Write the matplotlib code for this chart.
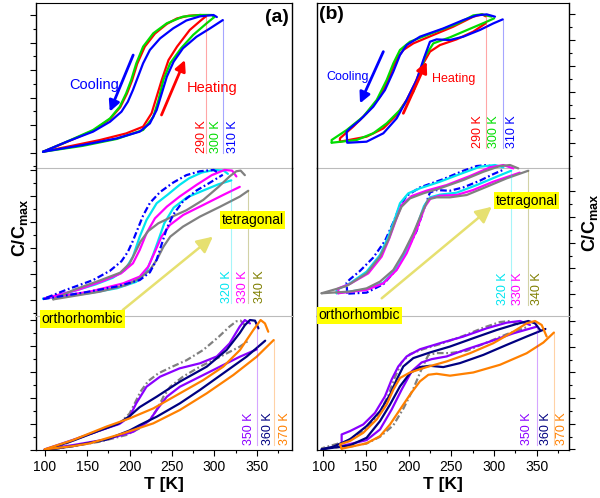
import matplotlib
matplotlib.use("Agg")
import matplotlib.pyplot as plt
from matplotlib.ticker import MultipleLocator

plt.rcParams['font.family'] = ['Liberation Sans', 'DejaVu Sans']
plt.rcParams['mathtext.fontset'] = 'custom'
plt.rcParams['mathtext.rm'] = 'Liberation Sans'
plt.rcParams['mathtext.bf'] = 'Liberation Sans:bold'

# ================= DATA (T [K], C/Cmax) =================
# each loop = heating branch + cooling branch

# ---- (a) top: 290 / 300 / 310 K
a290_heat = [(98, 0.007), (165, 0.092), (196, 0.14), (216, 0.189), (226, 0.286), (232, 0.407), (238, 0.528),
             (246, 0.673), (256, 0.77), (271, 0.891), (284, 0.96), (290, 0.99)]
a290_cool = [(290, 0.99), (284, 1.0), (270, 0.995), (256, 0.975), (244, 0.935), (230, 0.865), (218, 0.77),
             (209, 0.645), (203, 0.525), (197, 0.43), (189, 0.33), (177, 0.245), (157, 0.16), (126, 0.078), (98, 0.007)]
a300_heat = [(98, 0.007), (145, 0.05), (185, 0.1), (216, 0.165), (228, 0.26), (234, 0.38), (240, 0.53),
             (248, 0.65), (261, 0.76), (275, 0.855), (291, 0.94), (300, 0.985)]
a300_cool = [(300, 0.985), (297, 1.0), (283, 1.0), (263, 0.988), (244, 0.94), (228, 0.867), (216, 0.77),
             (208, 0.649), (202, 0.528), (196, 0.431), (188.5, 0.334), (177, 0.249), (157, 0.165), (126, 0.08), (98, 0.007)]
a310_heat = [(98, 0.007), (145, 0.056), (185, 0.104), (212, 0.153), (224, 0.213), (232, 0.31), (238, 0.431),
             (244, 0.552), (252, 0.661), (263, 0.758), (279, 0.842), (295, 0.903), (310, 0.963)]
a310_cool = [(303, 0.985), (299, 1.0), (283, 0.99), (267, 0.96), (251.5, 0.903), (236, 0.83), (224, 0.746),
             (216, 0.649), (210, 0.552), (204, 0.455), (198, 0.37), (190.5, 0.298), (177, 0.225), (157, 0.153),
             (126, 0.08), (98, 0.007)]

# ---- (a) middle: 320 / 330 / 340 K (+ 310 K dash-dot)
a320_heat = [(98, 0.01), (150, 0.05), (185, 0.09), (208, 0.14), (220, 0.22), (228, 0.35), (234, 0.46),
             (241, 0.59), (252, 0.71), (268, 0.79), (290, 0.85), (305, 0.89), (320, 0.92)]
a320_cool = [(316, 0.97), (311, 0.995), (300, 1.0), (285, 0.98), (270, 0.935), (259, 0.885), (245, 0.81),
             (232, 0.744), (220, 0.615), (212, 0.487), (204, 0.333), (194.5, 0.23), (180, 0.17), (160, 0.12),
             (130, 0.06), (98, 0.01)]
a330_heat = [(100, 0.013), (153, 0.064), (192.5, 0.128), (212, 0.18), (222, 0.256), (230, 0.372), (237.7, 0.487),
             (247.6, 0.577), (263.3, 0.654), (287, 0.731), (310.5, 0.808), (330, 0.87)]
a330_cool = [(326, 0.95), (321, 0.995), (312, 1.0), (297, 0.96), (279, 0.885), (259, 0.795), (244, 0.718),
             (230, 0.628), (220, 0.513), (212, 0.385), (204, 0.282), (190, 0.205), (170, 0.15), (140, 0.08), (100, 0.013)]
a340_heat = [(110, 0.005), (165, 0.064), (196, 0.115), (212, 0.167), (224, 0.231), (232, 0.308), (240, 0.41),
             (248, 0.487), (263, 0.564), (283, 0.641), (307, 0.718), (330, 0.795), (340, 0.84)]
a340_cool = [(336, 0.96), (331, 0.995), (326, 0.99), (318, 0.95), (305, 0.87), (287, 0.77), (267, 0.69),
             (250, 0.64), (234, 0.59), (222, 0.53), (213, 0.45), (207, 0.37), (200, 0.28), (189, 0.21),
             (165, 0.15), (135, 0.08), (110, 0.005)]

# ---- (a) bottom: 350 / 360 / 370 K (+ 340 K dash-dot)
a350_heat = [(100, 0.005), (133.5, 0.038), (172.8, 0.082), (204.3, 0.14), (224, 0.231), (232, 0.308),
             (244, 0.41), (259.4, 0.487), (283, 0.564), (306.6, 0.641), (330.2, 0.718), (350, 0.774)]
a350_cool = [(342, 0.974), (336, 1.0), (330, 0.95), (318, 0.82), (303, 0.72), (283, 0.667), (259, 0.628),
             (236, 0.564), (220, 0.487), (208, 0.36), (200, 0.256), (188, 0.2), (165, 0.15), (133, 0.077), (100, 0.005)]
a360_heat = [(100, 0.0), (133.5, 0.03), (172.8, 0.08), (200, 0.15), (212, 0.192), (232, 0.256), (259.4, 0.359),
             (283, 0.462), (310.5, 0.59), (338, 0.718), (360, 0.841)]
a360_cool = [(352, 0.936), (348, 0.995), (342, 1.0), (336, 0.96), (330, 0.9), (314.5, 0.77), (291, 0.641),
             (259.4, 0.526), (232, 0.41), (212, 0.33), (200, 0.26), (186, 0.2), (161, 0.141), (133.5, 0.072), (100, 0.0)]
a370_heat = [(100, 0.005), (133.5, 0.03), (153, 0.051), (192.5, 0.128), (228, 0.205), (259.4, 0.308),
             (291, 0.436), (322.4, 0.577), (350, 0.718), (370, 0.846)]
a370_cool = [(363.6, 0.91), (359.7, 0.974), (354.6, 1.0), (346, 0.923), (330.2, 0.769), (310.5, 0.641),
             (287, 0.538), (259.4, 0.436), (228, 0.32), (200.4, 0.244), (172.8, 0.18), (133.5, 0.077), (100, 0.005)]

# ---- (b) top: 290 / 300 / 310 K
b290_heat = [(119.5, 0.013), (150.7, 0.052), (170.3, 0.116), (185.9, 0.22), (197.6, 0.336), (207.3, 0.465),
             (217.1, 0.62), (224.9, 0.711), (236.6, 0.762), (256, 0.806), (275.6, 0.866), (290, 0.93)]
b290_cool = [(290, 0.985), (286, 1.0), (275.6, 0.982), (252, 0.904), (228.8, 0.84), (205.4, 0.775), (193.7, 0.724),
             (188, 0.672), (182, 0.594), (176, 0.491), (166.4, 0.362), (150.7, 0.233), (135.1, 0.13),
             (119.5, 0.039), (119.5, 0.013)]
b300_heat = [(109.8, 0.005), (139, 0.026), (158.5, 0.078), (174.2, 0.155), (189.8, 0.258), (205.4, 0.4),
             (213.2, 0.543), (219, 0.672), (228.8, 0.775), (248.3, 0.822), (275.6, 0.899), (291.3, 0.943), (300, 0.969)]
b300_cool = [(297, 0.982), (285.4, 1.0), (275.6, 0.992), (256.1, 0.925), (228.8, 0.858), (201.5, 0.788),
             (189.8, 0.724), (182, 0.62), (174.2, 0.491), (162.5, 0.336), (146.8, 0.207), (127.3, 0.103),
             (109.8, 0.026), (109.8, 0.005)]
b310_heat = [(129.3, 0.005), (150.7, 0.013), (170.3, 0.078), (185.9, 0.194), (197.6, 0.336), (209.3, 0.491),
             (217.1, 0.646), (224.9, 0.788), (232.7, 0.806), (248.3, 0.801), (263.9, 0.827), (283.4, 0.879),
             (299.1, 0.93), (310, 0.961)]
b310_cool = [(301, 0.982), (291.3, 1.0), (279.5, 0.992), (264, 0.956), (240.5, 0.891), (213.2, 0.827),
             (197.6, 0.762), (189.8, 0.685), (182, 0.556), (172.2, 0.413), (158.5, 0.284), (143, 0.181),
             (131.2, 0.116), (127.3, 0.09), (128, 0.005)]

# ---- (b) middle: 320 / 330 / 340 K (+ 310 K dash-dot)
b320_heat = [(115.6, 0.008), (150.7, 0.039), (170.3, 0.09), (185.9, 0.201), (197.6, 0.338), (209.3, 0.523),
             (217.9, 0.683), (224.9, 0.75), (236.6, 0.771), (256.1, 0.786), (279.5, 0.845), (303, 0.91), (320, 0.956)]
b320_cool = [(310.8, 0.982), (301, 1.0), (283.5, 0.987), (260, 0.93), (236.6, 0.871), (213.2, 0.82), (199.5, 0.781),
             (189.8, 0.704), (184, 0.588), (176.1, 0.446), (166.4, 0.304), (150.7, 0.175), (131.2, 0.085),
             (115.6, 0.034), (115.6, 0.008)]
b330_heat = [(117.6, 0.008), (150.7, 0.034), (170.3, 0.085), (185.9, 0.188), (197.6, 0.317), (209.3, 0.497),
             (219, 0.678), (225.7, 0.742), (236.6, 0.763), (256.1, 0.768), (275.6, 0.807), (299, 0.871), (330, 0.941)]
b330_cool = [(322.5, 0.974), (310.8, 1.0), (295.2, 0.982), (271.7, 0.915), (244.4, 0.845), (221, 0.802),
             (203.4, 0.76), (191.7, 0.691), (185.1, 0.575), (177.3, 0.433), (168.3, 0.291), (152.7, 0.162),
             (131.2, 0.08), (117.6, 0.046), (117.6, 0.008)]
b340_heat = [(98, 0.008), (131.2, 0.021), (150.7, 0.046), (166.4, 0.098), (182, 0.188), (193.7, 0.317),
             (205.4, 0.472), (215.1, 0.626), (223, 0.735), (232.7, 0.75), (248.3, 0.75), (267.8, 0.768),
             (291.3, 0.832), (314.7, 0.897), (340, 0.956)]
b340_cool = [(328.3, 0.974), (318.6, 1.0), (306.9, 0.992), (287.4, 0.948), (264, 0.884), (236.6, 0.82),
             (217.1, 0.781), (201.5, 0.742), (191.7, 0.678), (183.9, 0.562), (176.1, 0.42), (166.4, 0.291),
             (150.7, 0.162), (127.3, 0.064), (98, 0.008)]

# ---- (b) bottom: 350 / 360 / 370 K (+ 340 K dash-dot)
b350_heat = [(121.5, 0.026), (150.7, 0.072), (166.4, 0.155), (180, 0.31), (191.7, 0.465), (203.4, 0.607),
             (215.1, 0.677), (226.9, 0.703), (244.4, 0.724), (267.8, 0.78), (295.2, 0.84), (322.5, 0.904), (350, 0.956)]
b350_cool = [(342, 0.969), (330.3, 1.0), (314.7, 0.987), (291.3, 0.943), (264, 0.879), (236.6, 0.827),
             (213.2, 0.78), (197.6, 0.724), (187.8, 0.646), (180, 0.543), (172.2, 0.413), (160.5, 0.284),
             (146.8, 0.194), (131.2, 0.142), (121.5, 0.116), (121.5, 0.065)]
b360_heat = [(98, 0.0), (131.2, 0.031), (150.7, 0.09), (166.4, 0.22), (178.1, 0.349), (189.8, 0.491),
             (201.5, 0.594), (213.2, 0.641), (224.9, 0.651), (240.5, 0.641), (260, 0.672), (287.4, 0.736),
             (314.7, 0.814), (338.1, 0.879), (360, 0.938)]
b360_cool = [(353.7, 0.93), (347.9, 0.982), (340, 1.0), (326.4, 0.977), (303, 0.93), (275.6, 0.866),
             (248.3, 0.801), (224.9, 0.755), (205.4, 0.711), (193.7, 0.646), (185.9, 0.543), (178.1, 0.426),
             (166.4, 0.297), (150.7, 0.181), (131.2, 0.078), (111.7, 0.021), (98, 0.0)]
b370_heat = [(121.5, 0.005), (150.7, 0.047), (166.4, 0.103), (178.1, 0.194), (189.8, 0.31), (201.5, 0.426),
             (213.2, 0.53), (223, 0.581), (232.7, 0.589), (248.3, 0.574), (275.6, 0.599), (306.9, 0.659),
             (338.1, 0.749), (357.6, 0.832), (370, 0.91)]
b370_cool = [(361.5, 0.879), (355.7, 0.969), (347.9, 1.0), (338.1, 0.982), (322.5, 0.917), (299, 0.827),
             (271.7, 0.749), (244.4, 0.685), (221, 0.641), (201.5, 0.599), (189.8, 0.556), (182, 0.465),
             (174.2, 0.349), (162.5, 0.233), (146.8, 0.129), (131.2, 0.065), (119.5, 0.039), (121.5, 0.005)]

# temperature labels
TEMPS_TOP = ["290 K", "300 K", "310 K"]
TEMPS_MID = ["320 K", "330 K", "340 K"]
TEMPS_BOT = ["350 K", "360 K", "370 K"]
TMAX_TOP = [290, 300, 310]
TMAX_MID = [320, 330, 340]
TMAX_BOT = [350, 360, 370]

# ================= STYLE =================
RED, GREEN, BLUE = "#FF0000", "#00DD00", "#0000FF"
CYAN, MAGENTA, GRAY = "#00E5F0", "#FF00FF", "#808080"
PURPLE, NAVY, ORANGE = "#8A00FF", "#000080", "#FF8000"
OLIVE = "#7F7F00"
LW = 1.6
DASHDOT = (0, (3.0, 1.2, 0.8, 1.2))

W, H = 600, 498
COLS = [(36, 292), (316.7, 569.3)]
ROWS = [(3, 168), (168, 316), (316, 450)]
XLIMS = [(89.7, 391.6), (92.3, 388.0)]
YLIMS = [[(-0.111, 1.087), (-0.123, 1.015), (0.0, 1.031)],
         [(-0.191, 1.088), (-0.168, 0.977), (-0.005, 1.039)]]


def loop(ax, heat, cool, color, ls="-", lw=LW):
    for branch in (heat, cool):
        xs = [p[0] for p in branch]
        ys = [p[1] for p in branch]
        ax.plot(xs, ys, color=color, lw=lw, ls=ls, clip_on=False,
                solid_capstyle="round", solid_joinstyle="round")


def temp_marks(ax, labels, tmaxes, ends, label_x, label_y, colors):
    for lab, tm, ye, lx, c in zip(labels, tmaxes, ends, label_x, colors):
        if ye is not None:
            ax.plot([tm, tm], [label_y, ye], color=c, lw=0.8, alpha=0.35, clip_on=False)
        ax.text(lx, label_y, lab, rotation=90, ha="center", va="bottom",
                color=c, fontsize=9)


fig = plt.figure(figsize=(W / 100, H / 100), dpi=100)
axes = [[None] * 3 for _ in range(2)]
for ci, (x0, x1) in enumerate(COLS):
    for ri, (y0, y1) in enumerate(ROWS):
        ax = fig.add_axes([x0 / W, 1 - y1 / H, (x1 - x0) / W, (y1 - y0) / H])
        ax.set_zorder([1, 3, 2][ri])
        ax.patch.set_visible(False)
        ax.set_xlim(*XLIMS[ci])
        ax.set_ylim(*YLIMS[ci][ri])
        ax.yaxis.set_major_locator(MultipleLocator(0.2))
        ax.yaxis.set_minor_locator(MultipleLocator(0.1))
        ax.yaxis.set_ticks_position("left" if ci == 0 else "right")
        ax.tick_params(axis="y", which="both", direction="out", width=0.8,
                       labelleft=False, labelright=False)
        ax.tick_params(axis="y", which="major", length=4)
        ax.tick_params(axis="y", which="minor", length=2.5)
        for s in ("left", "right"):
            ax.spines[s].set_color("black")
            ax.spines[s].set_linewidth(1.0)
        if ri > 0:
            ax.spines["top"].set_visible(False)
        if ri < 2:
            ax.spines["bottom"].set_color("#BBBBBB")
            ax.spines["bottom"].set_linewidth(0.8)
            ax.tick_params(axis="x", which="both", bottom=False, labelbottom=False)
        else:
            ax.xaxis.set_major_locator(MultipleLocator(50))
            ax.xaxis.set_minor_locator(MultipleLocator(25))
            ax.tick_params(axis="x", which="both", direction="out", width=0.8, labelsize=10, pad=3)
            ax.tick_params(axis="x", which="major", length=4)
            ax.tick_params(axis="x", which="minor", length=2.5)
            ax.set_xlabel("T [K]", fontsize=12.5, fontweight="bold", labelpad=2)
        axes[ci][ri] = ax

yellow_box = dict(boxstyle="square,pad=0.12", fc="#FFFF00", ec="none")
arrow_yellow = dict(arrowstyle="-|>", color="#E6E070", lw=1.8, mutation_scale=24, shrinkA=0, shrinkB=0)
arrow_blue = dict(arrowstyle="-|>", color=BLUE, lw=2, mutation_scale=16, shrinkA=0, shrinkB=0)
arrow_red = dict(arrowstyle="-|>", color=RED, lw=2, mutation_scale=16, shrinkA=0, shrinkB=0)

# ---------------- (a) ----------------
ax = axes[0][0]
loop(ax, a290_heat, a290_cool, RED)
loop(ax, a300_heat, a300_cool, GREEN)
loop(ax, a310_heat, a310_cool, BLUE)
temp_marks(ax, TEMPS_TOP, TMAX_TOP, [1.0, None, 0.963], [285, 302, 322], 0.0, [RED, GREEN, BLUE])
ax.annotate("", xy=(176.7, 0.298), xytext=(204.3, 0.709), arrowprops=arrow_blue)
ax.annotate("", xy=(265.3, 0.673), xytext=(237.7, 0.274), arrowprops=arrow_red)
ax.text(129.5, 0.49, "Cooling", color=BLUE, fontsize=10.5, va="center", ha="left")
ax.text(267, 0.467, "Heating", color=RED, fontsize=10.5, va="center", ha="left")
ax.text(374, 0.985, "(a)", fontsize=14, fontweight="bold", ha="center", va="center")

ax = axes[0][1]
loop(ax, a320_heat, a320_cool, CYAN)
loop(ax, a330_heat, a330_cool, MAGENTA)
loop(ax, a340_heat, a340_cool, GRAY)
loop(ax, a310_heat, a310_cool, BLUE, ls=DASHDOT)
temp_marks(ax, TEMPS_MID, TMAX_MID, [0.92, None, 0.84], [314.5, 333.4, 353.8], -0.02, [CYAN, MAGENTA, OLIVE])
ax.annotate("", xy=(298.3, 0.487), xytext=(192, -0.077), arrowprops=arrow_yellow)
ax.text(345, 0.615, "tetragonal", fontsize=10, ha="center", va="center", bbox=yellow_box)
ax.text(144.3, -0.146, "orthorhombic", fontsize=10, ha="center", va="center", bbox=yellow_box,
        clip_on=False, zorder=10)

ax = axes[0][2]
loop(ax, a340_heat, a340_cool, GRAY, ls=DASHDOT)
loop(ax, a350_heat, a350_cool, PURPLE)
loop(ax, a360_heat, a360_cool, NAVY)
loop(ax, a370_heat, a370_cool, ORANGE)
temp_marks(ax, TEMPS_BOT, TMAX_BOT, [0.95, None, 0.846], [341, 363.6, 383], 0.04, [PURPLE, NAVY, ORANGE])

# ---------------- (b) ----------------
ax = axes[1][0]
loop(ax, b290_heat, b290_cool, RED)
loop(ax, b300_heat, b300_cool, GREEN)
loop(ax, b310_heat, b310_cool, BLUE)
temp_marks(ax, TEMPS_TOP, TMAX_TOP, [0.99, None, 0.961], [281.5, 299.8, 320.5], -0.039, [RED, GREEN, BLUE])
ax.annotate("", xy=(143, 0.31), xytext=(170.3, 0.711), arrowprops=arrow_blue)
ax.annotate("", xy=(221, 0.633), xytext=(193.7, 0.233), arrowprops=arrow_red)
ax.text(103.9, 0.517, "Cooling", color=BLUE, fontsize=9, va="center", ha="left")
ax.text(226.9, 0.496, "Heating", color=RED, fontsize=9, va="center", ha="left")
ax.text(109, 0.995, "(b)", fontsize=14, fontweight="bold", ha="center", va="center")

ax = axes[1][1]
loop(ax, b310_heat, b310_cool, BLUE, ls=DASHDOT)
loop(ax, b320_heat, b320_cool, CYAN)
loop(ax, b330_heat, b330_cool, MAGENTA)
loop(ax, b340_heat, b340_cool, GRAY)
temp_marks(ax, TEMPS_MID, TMAX_MID, [0.956, None, 0.956], [310.8, 328.3, 350.6], -0.083, [CYAN, MAGENTA, OLIVE])
ax.annotate("", xy=(297.2, 0.677), xytext=(168.4, -0.031), arrowprops=arrow_yellow)
ax.text(338, 0.725, "tetragonal", fontsize=10, ha="center", va="center", bbox=yellow_box)
ax.text(142.4, -0.164, "orthorhombic", fontsize=10, ha="center", va="center", bbox=yellow_box,
        clip_on=False, zorder=10)

ax = axes[1][2]
loop(ax, b340_heat, b340_cool, GRAY, ls=DASHDOT)
loop(ax, b350_heat, b350_cool, PURPLE)
loop(ax, b360_heat, b360_cool, NAVY)
loop(ax, b370_heat, b370_cool, ORANGE)
temp_marks(ax, TEMPS_BOT, TMAX_BOT, [0.956, None, 0.91], [338, 360.3, 379], 0.031, [PURPLE, NAVY, ORANGE])

# axis titles
ylab = r"$\mathbf{C/C_{max}}$"
fig.text(20 / W, 1 - 228 / H, ylab, rotation=90, fontsize=13, ha="center", va="center")
fig.text(590 / W, 1 - 223 / H, ylab, rotation=90, fontsize=13, ha="center", va="center")

fig.savefig("out.png", dpi=100)
